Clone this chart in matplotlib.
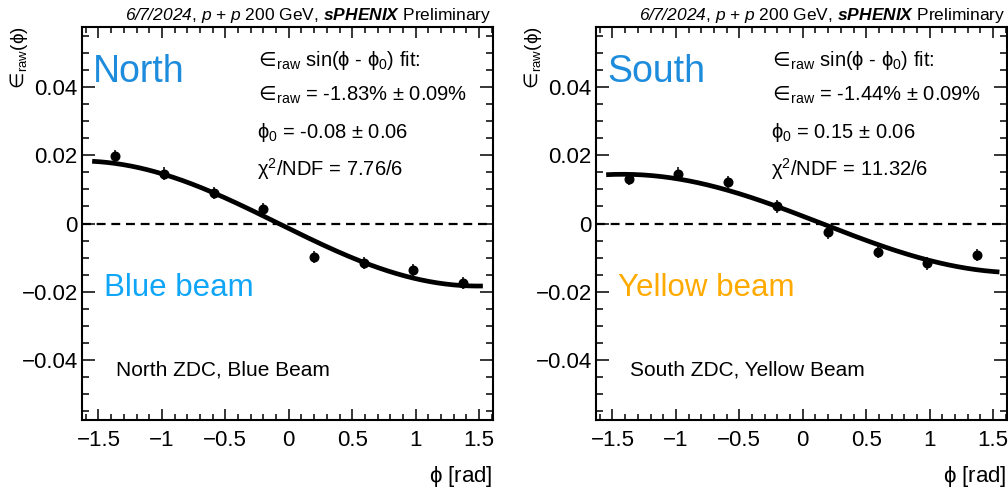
import numpy as np
import matplotlib
matplotlib.use("Agg")
import matplotlib.pyplot as plt
from matplotlib.ticker import MultipleLocator, FuncFormatter

plt.rcParams['font.family'] = ['Liberation Sans', 'DejaVu Sans']
plt.rcParams['mathtext.fontset'] = 'custom'
plt.rcParams['mathtext.rm'] = 'Liberation Sans'
plt.rcParams['mathtext.it'] = 'Liberation Sans:italic'
plt.rcParams['mathtext.sf'] = 'Liberation Sans:italic'
plt.rcParams['mathtext.bf'] = 'Liberation Sans:bold:italic'
plt.rcParams['mathtext.cal'] = 'DejaVu Sans'
plt.rcParams['mathtext.fallback'] = 'stixsans'
plt.rcParams['axes.unicode_minus'] = True

# Bin centres in azimuthal angle (rad)
phi_centers = [-1.37, -0.98, -0.59, -0.20, 0.20, 0.59, 0.98, 1.37]

# Raw asymmetry per bin
north_asym = [0.0197, 0.0146, 0.0089, 0.0041, -0.0099, -0.0115, -0.0136, -0.0175]
north_err = [0.0018, 0.0018, 0.0018, 0.0018, 0.0018, 0.0018, 0.0018, 0.0018]
south_asym = [0.0131, 0.0146, 0.0121, 0.0050, -0.0026, -0.0083, -0.0117, -0.0093]
south_err = [0.0018, 0.0018, 0.0018, 0.0018, 0.0018, 0.0018, 0.0018, 0.0018]

# Fit results: eps_raw * sin(phi - phi0)
north_fit = {"amp": -0.0183, "amp_err": 0.0009, "phi0": -0.08, "phi0_err": 0.06,
             "chi2": 7.76, "ndf": 6, "range": (-1.55, 1.53)}
south_fit = {"amp": -0.0144, "amp_err": 0.0009, "phi0": 0.15, "phi0_err": 0.06,
             "chi2": 11.32, "ndf": 6, "range": (-1.55, 1.55)}

header = (r"$\mathsf{6/7/2024}$, $\mathsf{p}$ + $\mathsf{p}$ 200 GeV, "
          r"$\mathbf{sPHENIX}$ Preliminary")

EPS = r"${\mathcal{\in}}\!_{\mathrm{raw}}$"
PHI = r"$\mathrm{\phi}$"
PHI0 = r"$\mathrm{\phi}_{0}$"

W, H = 1008, 491
fig = plt.figure(figsize=(W / 100, H / 100), dpi=100)


def fx(px):
    return px / W


def fy(py):
    return 1 - py / H


def tick_fmt(v, pos):
    s = "%g" % round(v, 6)
    if s in ("-0", "0.0"):
        s = "0"
    return s.replace("-", "\u2212")


panels = [
    dict(left=82, asym=north_asym, err=north_err, fit=north_fit,
         det="North", det_color="#1e8cdc", beam="Blue beam", beam_color="#10a6f7",
         zdc="North ZDC, Blue Beam"),
    dict(left=596, asym=south_asym, err=south_err, fit=south_fit,
         det="South", det_color="#1e8cdc", beam="Yellow beam", beam_color="#ffaa00",
         zdc="South ZDC, Yellow Beam"),
]

ax_w, top, bottom = 411, 27, 420

for p in panels:
    L = p["left"]
    ax = fig.add_axes([fx(L), fy(bottom), ax_w / W, (bottom - top) / H])
    ax.set_xlim(-1.63, 1.61)
    ax.set_ylim(-0.0575, 0.0575)

    for s in ax.spines.values():
        s.set_linewidth(1.5)

    ax.xaxis.set_major_locator(MultipleLocator(0.5))
    ax.xaxis.set_minor_locator(MultipleLocator(0.1))
    ax.yaxis.set_major_locator(MultipleLocator(0.02))
    ax.yaxis.set_minor_locator(MultipleLocator(0.005))
    ax.xaxis.set_major_formatter(FuncFormatter(tick_fmt))
    ax.yaxis.set_major_formatter(FuncFormatter(tick_fmt))
    ax.tick_params(axis='x', which='major', direction='in', length=8, width=1.1,
                   top=True, labelsize=16, pad=7)
    ax.tick_params(axis='x', which='minor', direction='in', length=4, width=1.1, top=True)
    ax.tick_params(axis='y', which='major', direction='in', length=9.5, width=1.1,
                   right=True, labelsize=16, pad=3)
    ax.tick_params(axis='y', which='minor', direction='in', length=5, width=1.1, right=True)

    # zero reference
    ax.axhline(0, color='black', lw=1.6, ls=(0, (4, 2.6)), zorder=1)

    # fit curve
    f = p["fit"]
    xs = np.linspace(f["range"][0], f["range"][1], 300)
    ax.plot(xs, f["amp"] * np.sin(xs - f["phi0"]), color='black', lw=3.4,
            solid_capstyle='butt', zorder=2)

    # data
    ax.errorbar(phi_centers, p["asym"], yerr=p["err"], fmt='o', color='black',
                ms=6.2, elinewidth=1.1, capsize=0, zorder=3)

    # labels inside panel
    fig.text(fx(L + 11), fy(82), p["det"], color=p["det_color"], fontsize=27,
             va='baseline', ha='left')
    fig.text(fx(L + 22), fy(296), p["beam"], color=p["beam_color"], fontsize=22.5,
             va='baseline', ha='left')
    fig.text(fx(L + 34), fy(375), p["zdc"], color='black', fontsize=15,
             va='baseline', ha='left')

    fx0 = L + 173
    fs = 14.5
    fig.text(fx(fx0), fy(66), EPS + " sin(" + PHI + " - " + PHI0 + ") fit:",
             fontsize=fs, va='baseline', ha='left')
    fig.text(fx(fx0), fy(101),
             EPS + " = %.2f%% ± %.2f%%" % (f["amp"] * 100, f["amp_err"] * 100),
             fontsize=fs, va='baseline', ha='left')
    fig.text(fx(fx0 + 2), fy(138),
             PHI0 + " = %.2f ± %.2f" % (f["phi0"], f["phi0_err"]),
             fontsize=fs, va='baseline', ha='left')
    fig.text(fx(fx0 + 2), fy(176),
             "χ$^{2}$/NDF = %.2f/%d" % (f["chi2"], f["ndf"]),
             fontsize=fs, va='baseline', ha='left')

    # header above panel
    fig.text(fx(L + ax_w - 2), fy(20.5), header, fontsize=12.5,
             va='baseline', ha='right')

    # axis titles
    fig.text(fx(L + ax_w), fy(482), PHI + " [rad]", fontsize=16, va='baseline', ha='right')
    fig.text(fx(L - 74), fy(26), EPS + "(" + PHI + ")", fontsize=13.5,
             rotation=90, va='top', ha='left')

fig.savefig("out.png", dpi=100)
